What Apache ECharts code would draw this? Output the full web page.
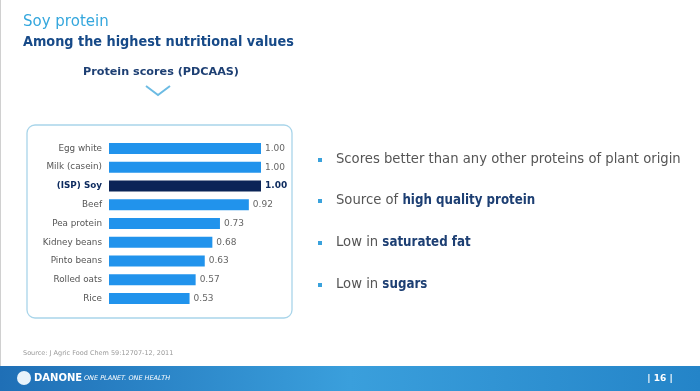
<!DOCTYPE html>
<html><head><meta charset="utf-8">
<script src="https://cdn.jsdelivr.net/npm/echarts@6/dist/echarts.min.js"></script>
<style>html,body{margin:0;padding:0;background:#fff}#c{width:700px;height:391px}</style>
</head><body><div id="c"></div>
<script>
const categories = ['Egg white','Milk (casein)','(ISP) Soy','Beef','Pea protein','Kidney beans','Pinto beans','Rolled oats','Rice'];
const scores = [1.00,1.00,1.00,0.92,0.73,0.68,0.63,0.57,0.53];
const highlight = '(ISP) Soy';
const bullets = [
  ['Scores better than any other proteins of plant origin',''],
  ['Source of ','high quality protein'],
  ['Low in ','saturated fat'],
  ['Low in ','sugars']
];

const F = 'DejaVu Sans';
const FC = 'DejaVu Sans Condensed';
const chart = echarts.init(document.getElementById('c'));
const graphics = [
  {type:'rect',shape:{x:0,y:0,width:1,height:391},style:{fill:'#d0d0d0'},z:-1},
  {type:'text',x:23,y:22,style:{text:'Soy protein',font:'15px "'+F+'"',fill:'#35a7dd',verticalAlign:'middle'}},
  {type:'text',x:23,y:42,style:{text:'Among the highest nutritional values',font:'bold 14.3px "'+FC+'"',fill:'#174a88',verticalAlign:'middle'}},
  {type:'text',x:161,y:72,style:{text:'Protein scores (PDCAAS)',font:'bold 11.2px "'+F+'"',fill:'#1d3f73',align:'center',verticalAlign:'middle'}},
  {type:'polyline',shape:{points:[[146,86],[158,95],[170,86]]},style:{stroke:'#6cbbe3',lineWidth:2,fill:null}},
  {type:'rect',shape:{x:27,y:125,width:265,height:193,r:8},style:{fill:'#fff',stroke:'#a9d5ea',lineWidth:1.3},z:-1},
  {type:'text',left:23,top:350,style:{text:'Source: J Agric Food Chem 59:12707-12, 2011',font:'6.5px "'+F+'"',fill:'#999'}},
  {type:'rect',shape:{x:0,y:366,width:700,height:25},style:{fill:new echarts.graphic.LinearGradient(0,0,1,0,[{offset:0,color:'#1f6fb6'},{offset:0.5,color:'#3a9fdc'},{offset:1,color:'#2484c8'}])}},
  {type:'circle',shape:{cx:24,cy:378,r:7},style:{fill:'#e8f3fb'}},
  {type:'text',x:34,y:378,style:{text:'DANONE',font:'bold 10px "'+F+'"',fill:'#fff',verticalAlign:'middle'}},
  {type:'text',x:84,y:378,style:{text:'ONE PLANET. ONE HEALTH',font:'italic 6.5px "'+F+'"',fill:'#fff',verticalAlign:'middle'}},
  {type:'text',x:660,y:379,style:{text:'| 16 |',font:'bold 9px "'+F+'"',fill:'#fff',align:'center',verticalAlign:'middle'}}
];
const bY = [160,201,243,285];
bullets.forEach((b,i)=>{
  graphics.push({type:'rect',shape:{x:318,y:bY[i]-2,width:4,height:4},style:{fill:'#3aa2dc'}});
  graphics.push({type:'text',x:336,y:bY[i],style:{
    text:'{n|'+b[0]+'}'+(b[1]?'{b|'+b[1]+'}':''),
    verticalAlign:'middle',
    rich:{n:{font:'13.2px "'+F+'"',fill:'#555'},b:{font:'bold 13.2px "'+FC+'"',fill:'#1d3f73'}}
  }});
});

chart.setOption({
  animation:false,
  grid:{left:109,top:139,width:152,height:169,containLabel:false},
  xAxis:{type:'value',min:0,max:1,show:false},
  yAxis:{type:'category',inverse:true,data:categories,
    axisLine:{show:false},axisTick:{show:false},
    axisLabel:{margin:7,fontFamily:F,fontSize:8.8,color:'#555',
      formatter:v=>v===highlight?'{h|'+v+'}':v,
      rich:{h:{fontFamily:F,fontSize:8.8,fontWeight:'bold',color:'#0c2a5e'}}}},
  series:[{type:'bar',barWidth:11,
    data:scores.map((v,i)=>({value:v,
      itemStyle:{color:categories[i]===highlight?'#0b2457':'#2193ec'},
      label:categories[i]===highlight?{fontWeight:'bold',color:'#0c2a5e'}:{}})),
    label:{show:true,position:'right',distance:4,fontFamily:F,fontSize:9,color:'#666',formatter:p=>p.value.toFixed(2)}
  }],
  graphic:graphics
});
</script></body></html>
